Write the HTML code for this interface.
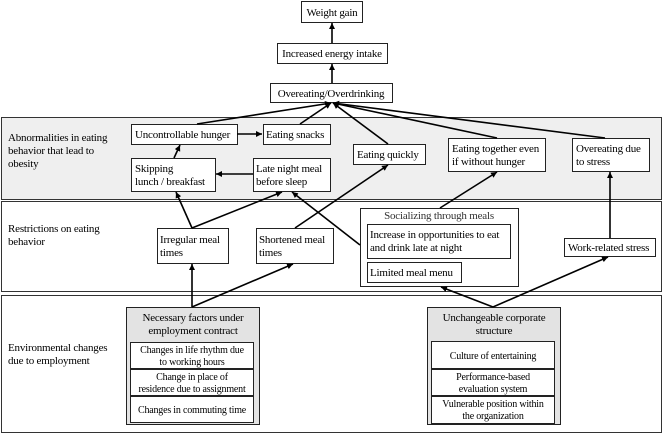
<!DOCTYPE html>
<html><head><meta charset="utf-8"><style>
html,body{margin:0;padding:0;background:#fff;}
svg{display:block;font-family:"Liberation Serif",serif;}
text{font-size:11px;fill:#000;letter-spacing:-0.2px;}
.s{font-size:10px;letter-spacing:-0.2px;}
</style></head><body>
<svg width="664" height="435" viewBox="0 0 664 435" xmlns="http://www.w3.org/2000/svg">
<defs><marker id="a" markerWidth="8" markerHeight="8" refX="6" refY="3" orient="auto" markerUnits="userSpaceOnUse"><path d="M0,0 L6,3 L0,6 z" fill="#000"/></marker></defs>
<g stroke="#333" stroke-width="1">
<rect x="1.5" y="117.5" width="660" height="82" fill="#efefef"/>
<rect x="1.5" y="201.5" width="660" height="90" fill="#fff"/>
<rect x="1.5" y="295.5" width="660" height="137" fill="#fff"/>
</g>
<g stroke="#222" stroke-width="1" fill="#fff">
<rect x="301.5" y="1.5" width="61" height="21"/>
<rect x="277.5" y="43.5" width="110" height="20"/>
<rect x="270.5" y="83.5" width="122" height="19"/>
<rect x="131.5" y="124.5" width="106" height="20"/>
<rect x="263.5" y="124.5" width="67" height="20"/>
<rect x="353.5" y="144.5" width="72" height="20"/>
<rect x="448.5" y="138.5" width="97" height="33"/>
<rect x="572.5" y="138.5" width="77" height="33"/>
<rect x="131.5" y="158.5" width="84" height="33"/>
<rect x="253.5" y="158.5" width="77" height="33"/>
<rect x="157.5" y="228.5" width="71" height="35"/>
<rect x="256.5" y="228.5" width="77" height="35"/>
<rect x="360.5" y="208.5" width="158" height="78"/>
<rect x="367.5" y="224.5" width="143" height="34"/>
<rect x="367.5" y="262.5" width="94" height="20"/>
<rect x="564.5" y="238.5" width="91" height="18"/>
<rect x="126.5" y="307.5" width="133" height="117" fill="#e3e3e3"/>
<rect x="130.5" y="342.5" width="123" height="26"/>
<rect x="130.5" y="369.5" width="123" height="26"/>
<rect x="130.5" y="396.5" width="123" height="26"/>
<rect x="427.5" y="307.5" width="133" height="117" fill="#e3e3e3"/>
<rect x="431.5" y="341.5" width="123" height="27"/>
<rect x="431.5" y="369.5" width="123" height="26"/>
<rect x="431.5" y="396.5" width="123" height="27"/>
</g>
<g stroke="#000" stroke-width="1.6" fill="none" marker-end="url(#a)">
<line x1="332" y1="43" x2="332" y2="23"/>
<line x1="332" y1="83" x2="332" y2="64"/>
<line x1="197" y1="124" x2="331" y2="103"/>
<line x1="300" y1="124" x2="331" y2="103"/>
<line x1="388" y1="144" x2="333" y2="103"/>
<line x1="497" y1="138" x2="333" y2="103"/>
<line x1="605" y1="138" x2="333" y2="103"/>
<line x1="237" y1="134" x2="262" y2="134"/>
<line x1="174" y1="158" x2="180" y2="145"/>
<line x1="253" y1="174" x2="216" y2="174"/>
<line x1="192" y1="228" x2="176" y2="192"/>
<line x1="192" y1="228" x2="282" y2="192"/>
<line x1="295" y1="228" x2="388" y2="165"/>
<line x1="360" y1="245" x2="292" y2="192"/>
<line x1="440" y1="208" x2="497" y2="172"/>
<line x1="610" y1="238" x2="610" y2="172"/>
<line x1="192" y1="307" x2="192" y2="264"/>
<line x1="192" y1="307" x2="293" y2="264"/>
<line x1="493" y1="307" x2="441" y2="287"/>
<line x1="493" y1="307" x2="608" y2="257"/>
</g>
<g>
<text x="332" y="16" text-anchor="middle">Weight gain</text>
<text x="332" y="57" text-anchor="middle">Increased energy intake</text>
<text x="331" y="97" text-anchor="middle">Overeating/Overdrinking</text>
<text x="135" y="138">Uncontrollable hunger</text>
<text x="266" y="138">Eating snacks</text>
<text x="357" y="158">Eating quickly</text>
<text x="452" y="152">Eating together even</text>
<text x="452" y="165">if without hunger</text>
<text x="576" y="152">Overeating due</text>
<text x="576" y="165">to stress</text>
<text x="135" y="172">Skipping</text>
<text x="135" y="185">lunch / breakfast</text>
<text x="256" y="172">Late night meal</text>
<text x="256" y="185">before sleep</text>
<text x="8" y="141">Abnormalities in eating</text>
<text x="8" y="154">behavior that lead to</text>
<text x="8" y="167">obesity</text>
<text x="8" y="232">Restrictions on eating</text>
<text x="8" y="245">behavior</text>
<text x="160" y="243">Irregular meal</text>
<text x="160" y="256">times</text>
<text x="259" y="243">Shortened meal</text>
<text x="259" y="256">times</text>
<text x="439" y="219" text-anchor="middle" style="fill:#333">Socializing through meals</text>
<text x="370" y="238">Increase in opportunities to eat</text>
<text x="370" y="251">and drink late at night</text>
<text x="370" y="276">Limited meal menu</text>
<text x="568" y="251">Work-related stress</text>
<text x="8" y="351">Environmental changes</text>
<text x="8" y="364">due to employment</text>
<text x="193" y="321" text-anchor="middle">Necessary factors under</text>
<text x="193" y="334" text-anchor="middle">employment contract</text>
<text x="494" y="321" text-anchor="middle">Unchangeable corporate</text>
<text x="494" y="334" text-anchor="middle">structure</text>
<text class="s" x="192" y="353" text-anchor="middle">Changes in life rhythm due</text>
<text class="s" x="192" y="365" text-anchor="middle">to working hours</text>
<text class="s" x="192" y="380" text-anchor="middle">Change in place of</text>
<text class="s" x="192" y="392" text-anchor="middle">residence due to assignment</text>
<text class="s" x="192" y="413" text-anchor="middle">Changes in commuting time</text>
<text class="s" x="493" y="359" text-anchor="middle">Culture of entertaining</text>
<text class="s" x="493" y="380" text-anchor="middle">Performance-based</text>
<text class="s" x="493" y="392" text-anchor="middle">evaluation system</text>
<text class="s" x="493" y="407" text-anchor="middle">Vulnerable position within</text>
<text class="s" x="493" y="419" text-anchor="middle">the organization</text>
</g>
</svg>
</body></html>
